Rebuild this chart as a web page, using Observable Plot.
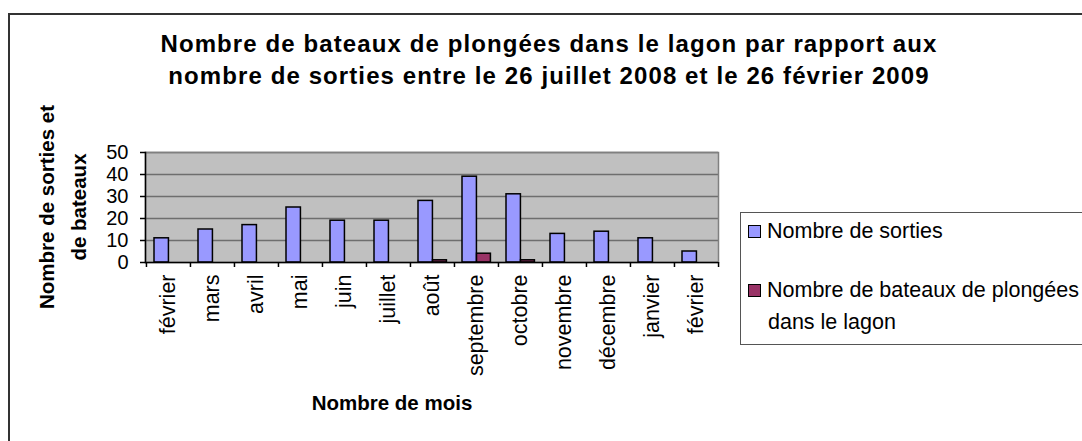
<!DOCTYPE html>
<html>
<head>
<meta charset="utf-8">
<script src="https://cdn.jsdelivr.net/npm/d3@7"></script>
<script src="https://cdn.jsdelivr.net/npm/@observablehq/plot@0.6"></script>
<style>
  html, body { margin: 0; padding: 0; background: #fff; }
  #wrap { position: relative; width: 1082px; height: 441px; overflow: hidden; font-family: Arial, "Liberation Sans", sans-serif; }
  #border { position: absolute; left: 8px; top: 13px; width: 1200px; height: 600px; border: 2px solid #333; box-sizing: border-box; }
  #title { position: absolute; left: 0; top: 28px; width: 1098px; text-align: center; font-weight: bold; font-size: 24px; line-height: 32px; letter-spacing: 1.1px; color: #000; white-space: nowrap; }
  #ytitle { position: absolute; left: 63px; top: 207px; transform: translate(-50%, -50%) rotate(-90deg); text-align: center; font-weight: bold; font-size: 20.5px; line-height: 32px; white-space: nowrap; color: #000; }
  #legend { position: absolute; left: 740px; top: 212px; width: 400px; height: 133px; border: 1.5px solid #555; box-sizing: border-box; background: #fff; font-size: 21.5px; color: #000; }
  .item { position: absolute; left: 7px; line-height: 32px; white-space: nowrap; }
  .sw { display: inline-block; width: 11px; height: 11px; border: 1.5px solid #000; margin-right: 6px; vertical-align: 0px; }
  #plot { position: absolute; left: 0; top: 0; }
</style>
</head>
<body>
<div id="wrap">
  <div id="border"></div>
  <div id="plot"></div>
  <div id="title">Nombre de bateaux de plongées dans le lagon par rapport aux<br>nombre de sorties entre le 26 juillet 2008 et le 26 février 2009</div>
  <div id="ytitle"></div>
  <div id="legend"></div>
</div>
<script>
const months = ["février","mars","avril","mai","juin","juillet","août","septembre","octobre","novembre","décembre","janvier","février"];
const sorties = [11, 15, 17, 25, 19, 19, 28, 39, 31, 13, 14, 11, 5];
const bateaux = [0, 0, 0, 0, 0, 0, 1, 4, 1, 0, 0, 0, 0];
const seriesNames = ["Nombre de sorties", "Nombre de bateaux de plongées dans le lagon"];
const seriesColors = ["#9999FF", "#993366"];
const yTicks = [0, 10, 20, 30, 40, 50];
const xTitle = "Nombre de mois";
const yTitleLines = ["Nombre de sorties et", "de bateaux"];

const idx = months.map((m, i) => i);
const rowsS = idx.map(i => ({i, v: sorties[i]})).filter(d => d.v > 0);
const rowsB = idx.map(i => ({i, v: bateaux[i]})).filter(d => d.v > 0);

const W = 1082, H = 441;
const mL = 145, mR = 364, mT = 152, mB = 179;
const band = (W - mL - mR) / months.length;

const chart = Plot.plot({
  width: W, height: H,
  marginLeft: mL, marginRight: mR, marginTop: mT, marginBottom: mB,
  style: {fontFamily: "Arial, 'Liberation Sans', sans-serif", background: "transparent", color: "#000"},
  x: {type: "band", domain: idx, padding: 0, axis: null, label: null},
  y: {domain: [0, 50], axis: null, label: null},
  marks: [
    Plot.frame({fill: "#C0C0C0", stroke: "none"}),
    Plot.ruleY(yTicks.slice(1), {stroke: "#6e6e6e", strokeWidth: 1.5}),
    Plot.frame({stroke: "#808080", strokeWidth: 1.5}),
    Plot.barY(rowsS, {x: "i", y: "v", fill: seriesColors[0], stroke: "#000", strokeWidth: 1.5,
      insetLeft: 8, insetRight: band - 22.5}),
    Plot.barY(rowsB, {x: "i", y: "v", fill: seriesColors[1], stroke: "#000", strokeWidth: 1.5,
      insetLeft: 22.5, insetRight: band - 36.5}),
    Plot.ruleY([0], {stroke: "#000", strokeWidth: 1.5}),
    Plot.frame({anchor: "left", stroke: "#000", strokeWidth: 1.5}),
    Plot.axisY({ticks: yTicks, tickSize: 5, tickPadding: 12, fontSize: 20, stroke: "#000", strokeWidth: 1.5, label: null}),
    Plot.axisX({ticks: idx, tickSize: 5, tickFormat: () => "", dx: -band / 2, strokeWidth: 1.5, label: null}),
    Plot.axisX({ticks: [idx[idx.length - 1]], tickSize: 5, tickFormat: () => "", dx: band / 2, strokeWidth: 1.5, label: null}),
    Plot.axisX({ticks: idx, tickSize: 0, tickPadding: 12, tickRotate: -90, fontSize: 21.5, tickFormat: i => months[i], label: null}),
    Plot.text([xTitle], {frameAnchor: "bottom", dy: 147, dx: -40, fontSize: 20.5, fontWeight: "bold", letterSpacing: 0.5, lineAnchor: "bottom"})
  ]
});
document.getElementById("plot").appendChild(chart);

document.getElementById("ytitle").innerHTML = yTitleLines.join("<br>");

const leg = document.getElementById("legend");
const tops = [2, 61];
seriesNames.forEach((name, k) => {
  const it = document.createElement("div");
  it.className = "item";
  it.style.top = tops[k] + "px";
  const parts = k === 1 ? ["Nombre de bateaux de plongées", "dans le lagon"] : [name];
  it.innerHTML = `<span class="sw" style="background:${seriesColors[k]}"></span>${parts[0]}` + (parts[1] ? `<br><span style="padding-left:20px">${parts[1]}</span>` : "");
  leg.appendChild(it);
});
</script>
</body>
</html>
